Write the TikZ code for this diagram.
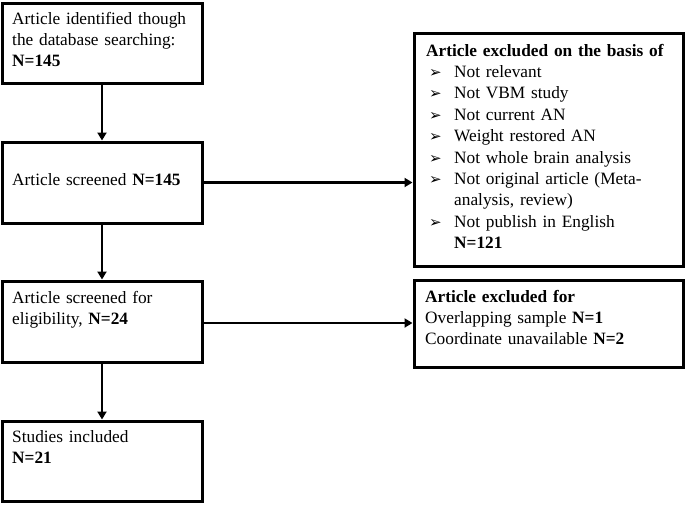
\documentclass[tikz,border=0pt]{standalone}
\usepackage{fontspec}
\setmainfont[WordSpace={1.3,1,1}]{Liberation Serif}
\newfontfamily\dvsans{DejaVu Sans}
\usetikzlibrary{arrows.meta,calc}
\newcommand\mybul{\makebox[28pt][l]{\hspace{3pt}{\dvsans\fontsize{15}{15}\selectfont ➢}}}
\newcommand\myind{\hspace*{28pt}}
\begin{document}
\begin{tikzpicture}[x=1pt,y=-1pt,
  box/.style={draw, line width=3pt, rectangle, inner sep=0pt},
  txt/.style={anchor=base west, inner sep=0pt, align=left, text width=262pt,
    font=\fontsize{17.3}{21.4}\selectfont},
  arr/.style={line width=2.5pt, -{Triangle[length=8pt,width=9pt]}}]
\useasboundingbox (0,0) rectangle (685,504);
% left column boxes
\node[box, minimum width=200pt, minimum height=80pt] (b1) at (102,43) {};
\node[box, minimum width=200pt, minimum height=81pt] (b2) at (102,182.5) {};
\node[box, minimum width=200pt, minimum height=81pt] (b3) at (102,321.5) {};
\node[box, minimum width=200pt, minimum height=80pt] (b4) at (102,461) {};
% right column boxes
\node[box, minimum width=269pt, minimum height=233pt] (r1) at (548.5,149.5) {};
\node[box, minimum width=269pt, minimum height=87pt] (r2) at (548.5,323.5) {};
% texts
\node[txt] (t1) at (12,24) {Article identified though\\the database searching:\\\textbf{N=145}};
\node[txt] (t2) at (12,185) {Article screened \textbf{N=145}};
\node[txt] (t3) at (12,303) {Article screened for\\eligibility, \textbf{N=24}};
\node[txt] (t4) at (12,442) {Studies included\\\textbf{N=21}};
\node[txt] (t5) at (426,56) {\textbf{Article excluded on the basis of}\\
  \mybul Not relevant\\
  \mybul Not VBM study\\
  \mybul Not current AN\\
  \mybul Weight restored AN\\
  \mybul Not whole brain analysis\\
  \mybul Not original article (Meta-\\
  \myind analysis, review)\\
  \mybul Not publish in English\\
  \myind\textbf{N=121}};
\node[txt] (t6) at (425,302) {\textbf{Article excluded for}\\Overlapping sample \textbf{N=1}\\Coordinate unavailable \textbf{N=2}};
% connectors
\draw[arr] (b1.south) -- (b2.north);
\draw[arr] (b2.south) -- (b3.north);
\draw[arr] (b3.south) -- (b4.north);
\draw[arr] (b2.east) -- (b2.east -| r1.west);
\draw[arr] ($(b3.east)+(0,1.5)$) -- ($(b3.east -| r2.west)+(0,1.5)$);
\end{tikzpicture}
\end{document}
